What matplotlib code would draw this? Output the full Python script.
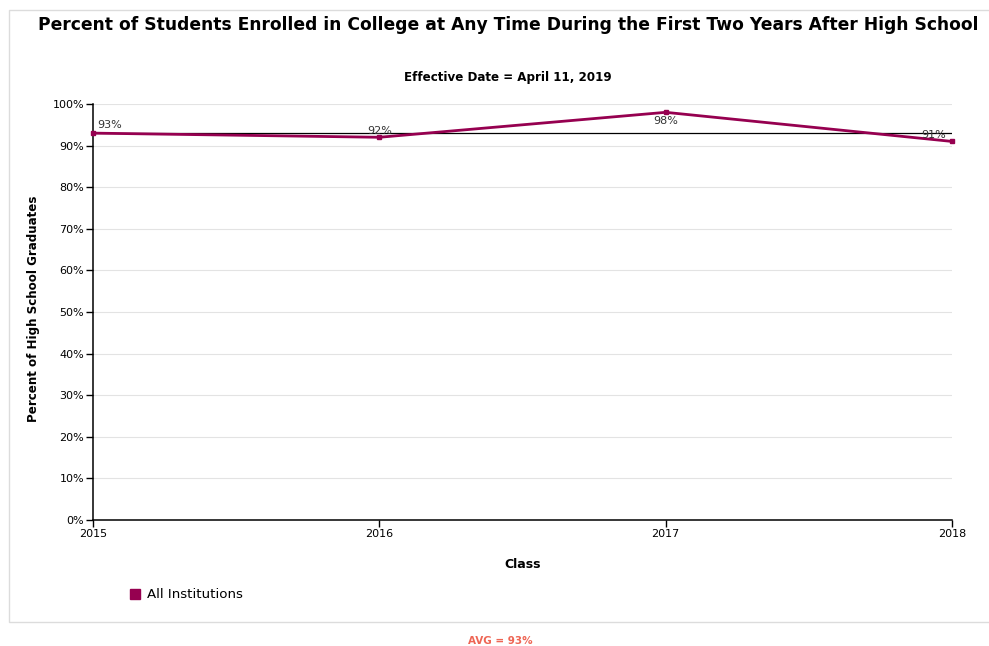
import matplotlib

matplotlib.use("Agg")
import matplotlib.pyplot as plt
from matplotlib.patches import Rectangle
from matplotlib.ticker import FuncFormatter, MultipleLocator

# enrollment rate by graduating class
classes = [2015, 2016, 2017, 2018]
pct_enrolled = [93, 92, 98, 91]
avg_pct = 93

series_name = "All Institutions"
title = "Percent of Students Enrolled in College at Any Time During the First Two Years After High School"
subtitle = "Effective Date = April 11, 2019"

LINE = "#960050"
TXT = "#333333"

plt.rcParams["font.family"] = "DejaVu Sans"

fig = plt.figure(figsize=(9.89, 6.46), dpi=100)
W, H = 989, 646

# light frame around the chart block
fig.patches.append(
    Rectangle((8.5 / W, 1 - 621.5 / H), (990 - 8.5) / W, (621.5 - 9.5) / H,
              transform=fig.transFigure, fill=False, edgecolor="#dcdcdc", lw=1)
)

ax = fig.add_axes([93 / W, 1 - 520 / H, (952 - 93) / W, (520 - 104) / H])
ax.plot(classes, pct_enrolled, color=LINE, lw=2.0, marker="s", ms=3.5,
        solid_joinstyle="miter", zorder=4, clip_on=False)
ax.axhline(avg_pct, color="black", lw=0.9, zorder=3)

ax.set_xlim(classes[0], classes[-1])
ax.set_ylim(0, 100)
ax.set_xticks(classes)
ax.yaxis.set_major_locator(MultipleLocator(10))
ax.yaxis.set_major_formatter(FuncFormatter(lambda v, _: f"{v:.0f}%"))
ax.grid(axis="y", color="#e3e3e3", lw=0.8)
ax.set_axisbelow(True)
for s in ("top", "right"):
    ax.spines[s].set_visible(False)
for s in ("left", "bottom"):
    ax.spines[s].set_linewidth(1.1)
ax.tick_params(labelsize=8, length=5, width=1, pad=1.5, colors="black")

# value labels, nudged like the report tool does
offsets = [(12, 2, "center", "bottom"), (0, 1, "center", "bottom"),
           (0, -3, "center", "top"), (-13, 1, "center", "bottom")]
for x, y, (dx, dy, ha, va) in zip(classes, pct_enrolled, offsets):
    ax.annotate(f"{y}%", (x, y), xytext=(dx, dy), textcoords="offset points",
                ha=ha, va=va, fontsize=8, color=TXT, zorder=5)

ax.set_xlabel("Class", fontsize=9, fontweight="bold", labelpad=14)
ax.set_ylabel("Percent of High School Graduates", fontsize=8.6,
              fontweight="bold")
ax.yaxis.set_label_coords(-0.062, 0.507)

fig.text(508 / W, 1 - 25 / H, title, ha="center", va="center",
         fontsize=12.3, fontweight="bold")
fig.text(508 / W, 1 - 78 / H, subtitle, ha="center", va="center",
         fontsize=8.6, fontweight="bold")

# legend swatch
fig.patches.append(
    Rectangle((130 / W, 1 - 599 / H), 10 / W, 10 / H,
              transform=fig.transFigure, color=LINE)
)
fig.text(147 / W, 1 - 594 / H, series_name, ha="left", va="center", fontsize=9.6)

fig.text(500 / W, 1 - 641 / H, f"AVG = {avg_pct}%", ha="center", va="center",
         fontsize=7.5, fontweight="bold", color="#ee6655")

fig.savefig("out.png", dpi=100)
